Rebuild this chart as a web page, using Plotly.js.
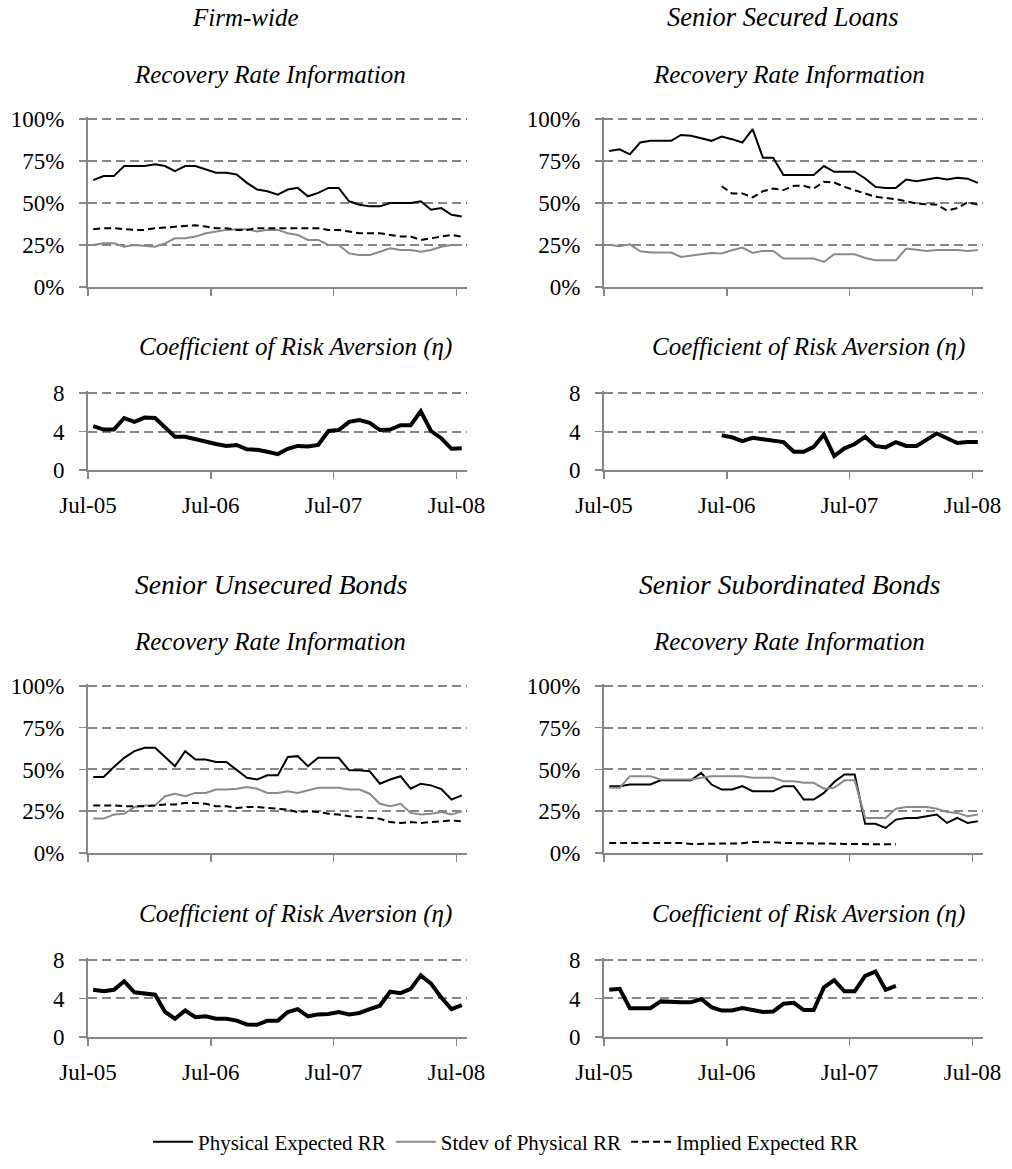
<!DOCTYPE html>
<html>
<head>
<meta charset="utf-8">
<script src="https://cdn.plot.ly/plotly-3.0.1.min.js"></script>
<style>html,body{margin:0;padding:0;background:#fff;}#chart{width:1012px;height:1169px;}</style>
</head>
<body>
<div id="chart"></div>
<script>
// ---- Data ----
const months = ["2005-07","2005-08","2005-09","2005-10","2005-11","2005-12",
  "2006-01","2006-02","2006-03","2006-04","2006-05","2006-06",
  "2006-07","2006-08","2006-09","2006-10","2006-11","2006-12",
  "2007-01","2007-02","2007-03","2007-04","2007-05","2007-06",
  "2007-07","2007-08","2007-09","2007-10","2007-11","2007-12",
  "2008-01","2008-02","2008-03","2008-04","2008-05","2008-06","2008-07"];
const tickDates = ["2005-07-01","2006-07-01","2007-07-01","2008-07-01"];
const tickLabels = ["Jul-05","Jul-06","Jul-07","Jul-08"];
const seriesNames = ["Physical Expected RR","Stdev of Physical RR","Implied Expected RR"];
const panelTitles = ["Firm-wide","Senior Secured Loans","Senior Unsecured Bonds","Senior Subordinated Bonds"];
const rrSubtitle = "Recovery Rate Information";
const etaSubtitle = "Coefficient of Risk Aversion (η)";

// Firm-wide
const firmPhys = [63.6,66,66,72,72,72,73,72,69,72,72,70,68,68,67,62,58,57,55,58,59,54,56,59,59,51,49,48,48,50,50,50,51,46,47,43,42];
const firmStdev = [25,26,26,24,25,24.5,24,26,29,29,30,32,33,34,34.4,34.4,33,34,34,32,31,28,28,25,25,20,19,19,21,23,22,22,21,22,24,25,25];
const firmImplied = [34.4,35,35,34.4,34,34,35,35.4,35.8,36.4,36.8,36,35,35,34,34,35,35,35,35,35,35,35,34,34,33,32,32,32,31,30,30,28,29,30,31,30];
const firmEta = [4.55,4.2,4.2,5.4,5.0,5.45,5.4,4.4,3.45,3.45,3.2,2.85,2.7,2.5,2.6,2.15,2.1,1.9,1.65,2.2,2.5,2.45,2.6,4.05,4.15,5.0,5.2,4.9,4.15,4.2,4.65,4.65,6.1,4.05,3.3,2.2,2.25];

// Senior Secured Loans
const sslPhys = [81,82,79,86,87,87,87,90.5,90,88.5,87,89.5,88,86,94,77,77,66.6,66.6,66.6,66.6,72,68.6,68.6,68.6,64.6,59.6,59,59,64,63,64,65,64,65,64.5,62];
const sslStdev = [25.2,24.3,25.4,21.3,20.5,20.5,20.5,17.9,18.5,19.5,20.3,19.9,21.9,23.5,20.3,21.5,21.5,16.9,16.9,16.9,16.9,14.9,19.5,19.5,19.5,17.3,15.9,15.9,15.9,22.9,22.3,21.5,22,22,22,21.5,22];
const sslImplied = [null,null,null,null,null,null,null,null,null,null,null,60,55.7,55.7,53.3,57,58.6,57.7,60.2,60.2,58.6,62.6,62.2,59.6,57.7,55.7,53.7,53,52.3,51,49.7,49.3,49,45.5,47,50.5,49];
const sslEta = [null,null,null,null,null,null,null,null,null,null,null,3.6,3.4,3.0,3.35,3.2,3.0,2.9,1.9,1.9,2.4,3.7,1.45,2.25,2.7,3.45,2.5,2.35,2.9,2.5,2.5,3.1,3.8,3.3,2.8,2.9,2.9];

// Senior Unsecured Bonds
const sunPhys = [45.5,45.5,51.5,57,61,63,63,57.5,52,61,56,56,54.5,54.5,49.5,45,44,46.5,46.5,57.5,58,52,57,57,57,49.5,49.5,49,41.5,44,46,38.5,41.5,40.5,38.3,32,34.5];
const sunStdev = [20.6,20.6,23,23.5,27.5,28.5,28.5,34,35.5,34,36,36,38,38,38.5,39.5,38.5,36,36,37,36,37.5,39,39,39,38,38,35.5,29.5,28,29.5,24,23,23.5,24.5,23,25];
const sunImplied = [28.5,28.5,28.5,28,28,28,28.5,29,29,30,30,29.5,28,28,27,27.5,27.5,27,26.5,26,24.5,25,24.5,23.5,23,22,21.5,21,20.5,18.5,18,18.5,18,18.5,19,19.5,19];
const sunEta = [4.9,4.75,4.9,5.8,4.65,4.55,4.4,2.6,1.9,2.75,2.05,2.15,1.9,1.9,1.7,1.3,1.27,1.7,1.7,2.6,2.9,2.15,2.35,2.4,2.6,2.35,2.5,2.9,3.25,4.7,4.55,5.0,6.4,5.55,4.1,2.9,3.3];

// Senior Subordinated Bonds
const subPhys = [40,40,41,41,41,43.5,43.5,43.5,43.5,48,41,38,38,40,37,37,37,40,40,32,32,36,42.5,47,47,17.5,17.5,15,20,21,21,22,23,18,21,18,19];
const subStdev = [39,39,46,46,46,44,44,44,44,45,46,46,46,46,45,45,45,43,43,42,42,38.5,39,43.5,43.5,21,21,21,26.5,27.5,27.5,27.5,26.5,24.5,24,22,23];
const subImplied = [6,6,5.8,5.8,5.8,6,6,6,5.4,5.4,5.4,5.4,5.4,5.8,6.6,6.6,6.4,6,6,5.6,5.6,5.6,5.6,5.4,5.4,5.4,5.2,5.2,5.2,null,null,null,null,null,null,null,null];
const subEta = [4.9,5.0,3.0,3.0,3.0,3.7,3.6,3.6,3.6,3.95,3.1,2.75,2.75,3.0,2.8,2.6,2.65,3.45,3.55,2.8,2.8,5.15,5.9,4.75,4.75,6.35,6.8,4.9,5.3,null,null,null,null,null,null,null,null];

const panels = [
  {phys: firmPhys, sd: firmStdev, imp: firmImplied, eta: firmEta},
  {phys: sslPhys, sd: sslStdev, imp: sslImplied, eta: sslEta},
  {phys: sunPhys, sd: sunStdev, imp: sunImplied, eta: sunEta},
  {phys: subPhys, sd: subStdev, imp: subImplied, eta: subEta}
];

// ---- Layout geometry ----
const W = 1012, H = 1169;
const FONT = "'Liberation Serif', 'Times New Roman', Times, serif";
const axisColor = "#868686";
const gridColor = "#868686";
const colX = [[88, 467], [604, 983]];
const rowY = [ {rr:[119,287], eta:[393,470], head:17, sub:74, etaT:347},
               {rr:[686,853], eta:[960,1037], head:584, sub:641, etaT:914} ];
const headCx = [245, 783, 271, 789];
const headSize = [25, 26.5, 27.5, 27.5];
const subCx = [270, 789];
const etaCx = [295, 808];
const px2x = p => p / W;
const px2y = p => 1 - p / H;

const traces = [];
const layout = {
  width: W, height: H,
  margin: {l:0, r:0, t:0, b:0},
  paper_bgcolor: "#fff", plot_bgcolor: "#fff",
  font: {family: FONT, size: 23, color: "#000"},
  showlegend: true,
  legend: {orientation: "h", x: 0.5, xanchor: "center", y: px2y(1142), yanchor: "middle",
           font: {family: FONT, size: 21, color: "#000"}, traceorder: "normal", itemwidth: 40},
  annotations: []
};

function xAxis(dom, anchor, labels) {
  return {domain: dom, anchor: anchor, type: "date",
    range: ["2005-07-01", "2008-08-01"],
    tickmode: "array", tickvals: tickDates, ticktext: tickLabels,
    showticklabels: labels, ticks: "outside", ticklen: 7, tickwidth: 1.5, tickcolor: axisColor,
    showline: true, linecolor: axisColor, linewidth: 2, showgrid: false, zeroline: false,
    tickfont: {family: FONT, size: 23, color: "#000"}, ticklabelstandoff: 6};
}
function yAxis(dom, anchor, isRR, extra) {
  const top = isRR ? 100 : 8;
  return {domain: dom, anchor: anchor,
    range: [0, top + extra], tickmode: "array",
    tickvals: isRR ? [0, 25, 50, 75, 100] : [0, 4, 8],
    ticktext: isRR ? ["0%", "25%", "50%", "75%", "100%"] : ["0", "4", "8"],
    ticks: "outside", ticklen: 7, tickwidth: 1.5, tickcolor: axisColor,
    showline: true, linecolor: axisColor, linewidth: 2,
    showgrid: true, gridcolor: gridColor, gridwidth: 2, griddash: "9px,5px", zeroline: false,
    tickfont: {family: FONT, size: 23, color: "#000"}, ticklabelstandoff: 10};
}

let axN = 0;
panels.forEach((p, k) => {
  const col = k % 2, row = Math.floor(k / 2);
  const xd = [px2x(colX[col][0]), px2x(colX[col][1])];
  const g = rowY[row];
  // RR subplot (range extended slightly above 100 so the top gridline is drawn)
  axN++;
  const sfx1 = axN === 1 ? "" : String(axN);
  const rrPxPerUnit = (g.rr[1] - g.rr[0]) / 100;
  const rrExtra = 1.2;
  layout["xaxis" + sfx1] = xAxis(xd, "y" + sfx1, false);
  layout["yaxis" + sfx1] = yAxis([px2y(g.rr[1]), px2y(g.rr[0] - rrExtra * rrPxPerUnit)], "x" + sfx1, true, rrExtra);
  const common = {x: months, xperiod: "M1", xperiodalignment: "middle", mode: "lines",
                  xaxis: "x" + sfx1, yaxis: "y" + sfx1, hoverinfo: "skip", connectgaps: false};
  traces.push(Object.assign({}, common, {y: p.phys, name: seriesNames[0], line: {color: "#000", width: 2}, showlegend: k === 0, legendrank: 1}));
  traces.push(Object.assign({}, common, {y: p.sd, name: seriesNames[1], line: {color: "#8a8a8a", width: 2}, showlegend: k === 0, legendrank: 2}));
  traces.push(Object.assign({}, common, {y: p.imp, name: seriesNames[2], line: {color: "#000", width: 2, dash: "7px,4px"}, showlegend: k === 0, legendrank: 3}));
  // Eta subplot
  axN++;
  const sfx2 = String(axN);
  const etaPxPerUnit = (g.eta[1] - g.eta[0]) / 8;
  const etaExtra = 0.2;
  layout["xaxis" + sfx2] = xAxis(xd, "y" + sfx2, true);
  layout["yaxis" + sfx2] = yAxis([px2y(g.eta[1]), px2y(g.eta[0] - etaExtra * etaPxPerUnit)], "x" + sfx2, false, etaExtra);
  traces.push({x: months, y: p.eta, xperiod: "M1", xperiodalignment: "middle", mode: "lines",
               xaxis: "x" + sfx2, yaxis: "y" + sfx2, line: {color: "#000", width: 4},
               showlegend: false, hoverinfo: "skip", name: "eta"});
  // Titles
  const tf = {family: FONT, color: "#000", style: "italic"};
  layout.annotations.push({text: panelTitles[k], xref: "paper", yref: "paper", x: px2x(headCx[k]), y: px2y(g.head),
    xanchor: "center", yanchor: "middle", showarrow: false, font: Object.assign({size: headSize[k]}, tf)});
  layout.annotations.push({text: rrSubtitle, xref: "paper", yref: "paper", x: px2x(subCx[col]), y: px2y(g.sub),
    xanchor: "center", yanchor: "middle", showarrow: false, font: Object.assign({size: 25}, tf)});
  layout.annotations.push({text: etaSubtitle, xref: "paper", yref: "paper", x: px2x(etaCx[col]), y: px2y(g.etaT),
    xanchor: "center", yanchor: "middle", showarrow: false, font: Object.assign({size: 25}, tf)});
});

Plotly.newPlot("chart", traces, layout, {staticPlot: true, displayModeBar: false});
</script>
</body>
</html>
